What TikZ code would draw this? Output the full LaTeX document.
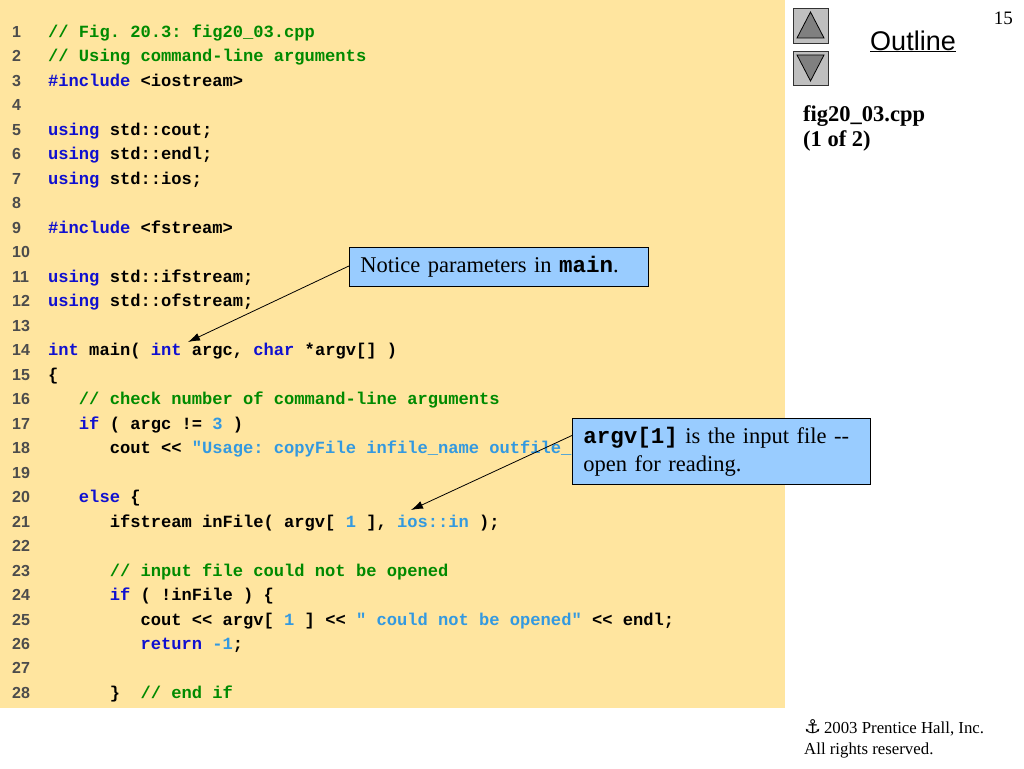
\documentclass[tikz,border=0pt]{standalone}
\usepackage{fontspec}
\setmainfont{Liberation Serif}
\setsansfont{Liberation Sans}
\setmonofont{Liberation Mono}
\newfontfamily\symfont{DejaVu Sans}
\usetikzlibrary{arrows.meta}
\definecolor{panelbg}{HTML}{FFE59F}
\definecolor{kwblue}{HTML}{1010D0}
\definecolor{litblue}{HTML}{3399E0}
\definecolor{cmgreen}{HTML}{008A00}
\definecolor{notebg}{HTML}{99CCFF}
\newcommand{\kwd}[1]{\textcolor{kwblue}{#1}}
\newcommand{\lit}[1]{\textcolor{litblue}{#1}}
\newcommand{\cmt}[1]{\textcolor{cmgreen}{#1}}
\tikzset{
  code/.style={anchor=base west, inner sep=0pt, font=\ttfamily\bfseries\fontsize{17.1}{20}\selectfont},
  lnum/.style={anchor=base west, inner sep=0pt, text=black!70, font=\sffamily\bfseries\fontsize{16}{18}\selectfont},
  note/.style={draw=black, line width=0.9pt, fill=notebg, anchor=north west, align=left, inner xsep=11pt,
    font=\fontsize{22.5}{28}\selectfont},
  callarrow/.style={line width=0.8pt, -{Latex[length=12pt,width=8pt]}},
  btn/.style={draw=black!80, fill=black!25, line width=0.8pt},
  tri/.style={draw=black, fill=black!50, line width=0.8pt}
}
\begin{document}
\begin{tikzpicture}[x=1pt,y=-1pt]
\useasboundingbox (0,0) rectangle (1024,768);
\fill[panelbg] (0,0) rectangle (785,708);

\begin{scope}[yshift=-1.5pt]
\foreach \i in {1,...,28}
  \node[lnum] (n\i) at (12,{36+24.48*(\i-1)}) {\i};

\node[code] (c1) at (48,36) {\cmt{// Fig. 20.3: fig20\_03.cpp}};
\node[code] (c2) at (48,60.48) {\cmt{// Using command-line arguments}};
\node[code] (c3) at (48,84.96) {\kwd{\#include} <iostream>};
\node[code] (c5) at (48,133.92) {\kwd{using} std::cout;};
\node[code] (c6) at (48,158.40) {\kwd{using} std::endl;};
\node[code] (c7) at (48,182.88) {\kwd{using} std::ios;};
\node[code] (c9) at (48,231.84) {\kwd{\#include} <fstream>};
\node[code] (c11) at (48,280.80) {\kwd{using} std::ifstream;};
\node[code] (c12) at (48,305.28) {\kwd{using} std::ofstream;};
\node[code] (c14) at (48,354.24) {\kwd{int} main( \kwd{int} argc, \kwd{char} *argv[] )};
\node[code] (c15) at (48,378.72) {\{};
\node[code] (c16) at (48,403.20) {~~~\cmt{// check number of command-line arguments}};
\node[code] (c17) at (48,427.68) {~~~\kwd{if} ( argc != \lit{3} )};
\node[code] (c18) at (48,452.16) {~~~~~~cout << \lit{"Usage: copyFile infile\_name outfile\_}};
\node[code] (c20) at (48,501.12) {~~~\kwd{else} \{};
\node[code] (c21) at (48,525.60) {~~~~~~ifstream inFile( argv[ \lit{1} ], \lit{ios::in} );};
\node[code] (c23) at (48,574.56) {~~~~~~\cmt{// input file could not be opened}};
\node[code] (c24) at (48,599.04) {~~~~~~\kwd{if} ( !inFile ) \{};
\node[code] (c25) at (48,623.52) {~~~~~~~~~cout << argv[ \lit{1} ] << \lit{" could not be opened"} << endl;};
\node[code] (c26) at (48,648.00) {~~~~~~~~~\kwd{return} \lit{-1};};
\node[code] (c28) at (48,696.96) {~~~~~~\}~ \cmt{// end if}};
\end{scope}

\node[note, text width=277pt, minimum height=39pt] (note1) at (349,247)
  {Notice parameters in {\ttfamily\bfseries main}.};
\coordinate (tip1) at (188,342);
\draw[callarrow] ([yshift=1pt]note1.west) -- (tip1);

\node[note, text width=276pt, minimum height=66pt] (note2) at (572,418)
  {{\ttfamily\bfseries argv[1]} is the input file -{}-\hfill\\open for reading.};
\coordinate (tip2) at (411,510);
\draw[callarrow] ([yshift=16pt]note2.west) -- (tip2);

\draw[btn] (793,8) rectangle (828,43);
\draw[tri] (810.5,12) -- (824,38) -- (797,38) -- cycle;
\draw[btn] (793,51) rectangle (828,85);
\draw[tri] (797,55) -- (824,55) -- (810.5,81) -- cycle;

\node[anchor=base, inner sep=0pt, font=\sffamily\fontsize{27}{30}\selectfont] (outline) at (913,50) {\underline{Outline}};
\node[anchor=base east, inner sep=0pt, font=\fontsize{19}{22}\selectfont] (page) at (1013,25) {15};
\node[anchor=base west, inner sep=0pt, align=left, font=\bfseries\fontsize{22.5}{25}\selectfont] (fname) at (803,146)
  {fig20\_03.cpp\\(1 of 2)};
\node[anchor=base west, inner sep=0pt, align=left, font=\fontsize{16.8}{21}\selectfont] (copy) at (804,754)
  {{\symfont\bfseries\fontsize{19}{16}\selectfont ⚓}\,2003 Prentice Hall, Inc.\\All rights reserved.};
\end{tikzpicture}
\end{document}
